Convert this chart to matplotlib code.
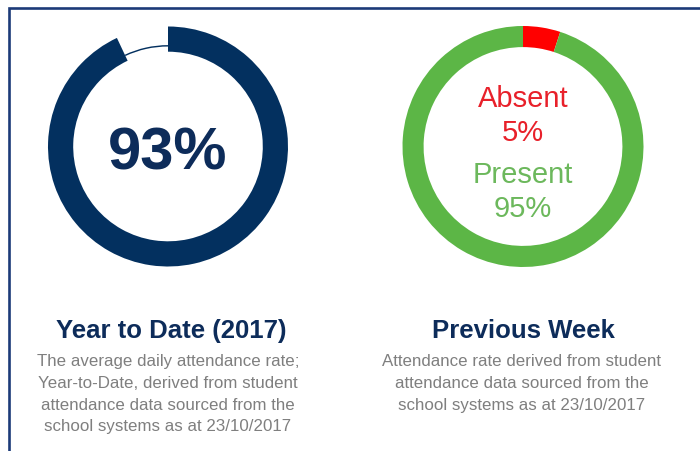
import matplotlib.pyplot as plt
from matplotlib import font_manager

# Dati
ytd_values = [93, 7]            # presenza media anno, resto
week_values = [5, 95]           # assenti, presenti (settimana precedente)
week_labels = ["Absent", "Present"]

titles = ["Year to Date (2017)", "Previous Week"]
descriptions = [
    ["The average daily attendance rate;",
     "Year-to-Date, derived from student",
     "attendance data sourced from the",
     "school systems as at 23/10/2017"],
    ["Attendance rate derived from student",
     "attendance data sourced from the",
     "school systems as at 23/10/2017"],
]

NAVY = "#03305f"
NAVY_TXT = "#0d2c5a"
GREEN = "#5cb646"
GREEN_TXT = "#6cb85c"
RED = "#ff0000"
RED_TXT = "#e8202a"
GREY = "#7f7f7f"
BORDER = "#1c3a78"

names = {f.name for f in font_manager.fontManager.ttflist}
FONT = "Liberation Sans" if "Liberation Sans" in names else "DejaVu Sans"
plt.rcParams["font.family"] = [FONT, "DejaVu Sans"]

W, H = 700, 452
fig = plt.figure(figsize=(W / 100, H / 100), dpi=100)

# Asse di sfondo in pixel (origine in alto a sinistra)
bg = fig.add_axes([0, 0, 1, 1])
bg.set_xlim(0, W)
bg.set_ylim(H, 0)
bg.axis("off")

# Cornice (solo lato superiore e sinistro visibili)
bg.plot([9, 9, W], [H, 9, 9], color=BORDER, lw=1.9, solid_capstyle="butt",
        solid_joinstyle="miter")


def donut_axes(cx, cy, r):
    ax = fig.add_axes([(cx - r) / W, (H - cy - r) / H, 2 * r / W, 2 * r / H])
    ax.set_aspect("equal")
    ax.axis("off")
    return ax


# Ciambella sinistra: anno in corso
ax1 = donut_axes(168, 147.5, 120)
ax1.pie(ytd_values, colors=[NAVY, "none"], startangle=90, counterclock=False,
        radius=1.0, wedgeprops=dict(width=0.21, edgecolor="none"))
ax1.pie(ytd_values, colors=["none", NAVY], startangle=90, counterclock=False,
        radius=0.845, wedgeprops=dict(width=0.012, edgecolor="none"))
ax1.set_xlim(-1, 1)
ax1.set_ylim(-1, 1)

# Ciambella destra: settimana precedente
ax2 = donut_axes(523, 147.5, 120.5)
ax2.pie(week_values, colors=[RED, GREEN], startangle=90, counterclock=False,
        radius=1.0, wedgeprops=dict(width=0.175, edgecolor="none"))
ax2.set_xlim(-1, 1)
ax2.set_ylim(-1, 1)

# Testi centrali
bg.text(167.5, 170, f"{ytd_values[0]}%", ha="center", va="baseline",
        fontsize=43, fontweight="bold", color=NAVY_TXT)
bg.text(523, 107, week_labels[0], ha="center", va="baseline", fontsize=21,
        color=RED_TXT)
bg.text(523, 141, f"{week_values[0]}%", ha="center", va="baseline",
        fontsize=21, color=RED_TXT)
bg.text(523, 183, week_labels[1], ha="center", va="baseline", fontsize=21,
        color=GREEN_TXT)
bg.text(523, 217, f"{week_values[1]}%", ha="center", va="baseline",
        fontsize=21, color=GREEN_TXT)

# Titoli e descrizioni
for cx, dx, title, lines in zip([171, 523.5], [168, 522], titles, descriptions):
    bg.text(cx, 338, title, ha="center", va="baseline", fontsize=18.5,
            fontweight="bold", color=NAVY_TXT)
    for i, line in enumerate(lines):
        bg.text(dx, 366.5 + i * 21.6, line, ha="center", va="baseline",
                fontsize=12.2, color=GREY)

fig.savefig("out.png", dpi=100)
plt.close(fig)
